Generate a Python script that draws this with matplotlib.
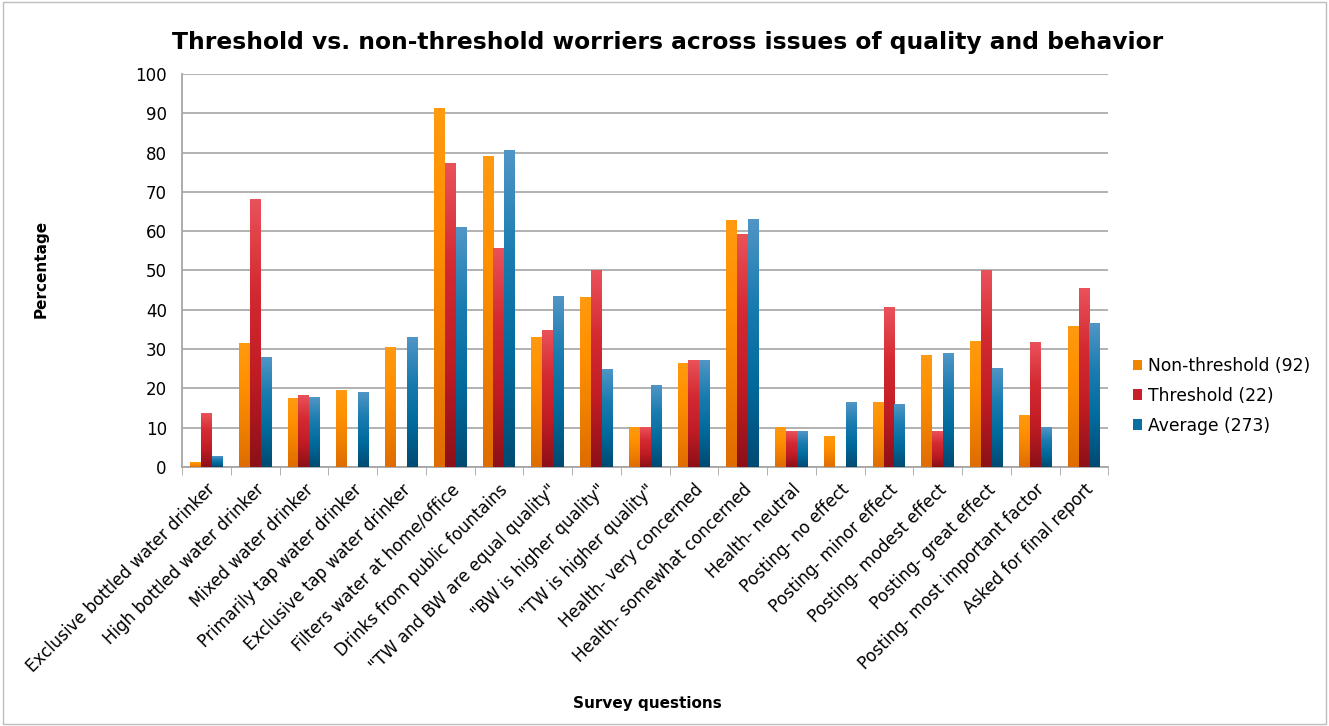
import numpy as np
import matplotlib
matplotlib.use("Agg")
import matplotlib.pyplot as plt
from matplotlib.colors import LinearSegmentedColormap
from matplotlib.patches import Rectangle, Patch

# Survey data (percent)
questions = [
    "Exclusive bottled water drinker",
    "High bottled water drinker",
    "Mixed water drinker",
    "Primarily tap water drinker",
    "Exclusive tap water drinker",
    "Filters water at home/office",
    "Drinks from public fountains",
    "\"TW and BW are equal quality\"",
    "\"BW is higher quality\"",
    "\"TW is higher quality\"",
    "Health- very concerned",
    "Health- somewhat concerned",
    "Health- neutral",
    "Posting- no effect",
    "Posting- minor effect",
    "Posting- modest effect",
    "Posting- great effect",
    "Posting- most important factor",
    "Asked for final report",
]
non_threshold = [1.1, 31.5, 17.4, 19.6, 30.4, 91.3, 79.0, 32.9, 43.2, 10.1,
                 26.3, 62.8, 10.0, 7.7, 16.4, 28.5, 31.9, 13.2, 35.8]
threshold = [13.6, 68.2, 18.2, 0, 0, 77.3, 55.6, 34.8, 50.0, 10.0,
             27.2, 59.1, 9.1, 0, 40.6, 9.1, 50.0, 31.8, 45.5]
average = [2.6, 27.8, 17.6, 18.9, 32.9, 61.0, 80.7, 43.3, 24.7, 20.8,
           27.0, 62.9, 9.1, 16.4, 15.8, 28.8, 25.0, 10.1, 36.6]
series_names = ["Non-threshold (92)", "Threshold (22)", "Average (273)"]

# gradient colours, bottom -> top
gradients = [
    ["#de6c00", "#f08000", "#ff9000", "#ff9a10"],
    ["#8c1018", "#c01c24", "#d42a32", "#ea525a"],
    ["#004a72", "#006a9c", "#1a7cb0", "#5096c6"],
]
mid_colors = ["#f28500", "#c8202a", "#0a6fa0"]

fig = plt.figure(figsize=(13.29, 7.26), dpi=100)
ax = fig.add_axes([0.137, 0.357, 0.697, 0.541])

x = np.arange(len(questions))
width = 0.225
grad = np.linspace(0, 1, 256).reshape(-1, 1)

for i, vals in enumerate([non_threshold, threshold, average]):
    cmap = LinearSegmentedColormap.from_list(f"g{i}", gradients[i])
    bars = ax.bar(x + (i - 1) * width, vals, width, color="none", edgecolor="none", zorder=3)
    for b in bars:
        h = b.get_height()
        if h <= 0:
            continue
        x0 = b.get_x()
        ax.imshow(grad, extent=[x0, x0 + width, 0, h], origin="lower",
                  aspect="auto", cmap=cmap, zorder=3)

ax.set_xlim(-0.5, len(questions) - 0.5)
ax.set_ylim(0, 100)
ax.set_yticks(range(0, 101, 10))
ax.tick_params(axis="y", length=0, labelsize=12, pad=11)
ax.yaxis.grid(True, color="#ababab", linewidth=1.3, zorder=0)
ax.set_axisbelow(True)

ax.set_xticks(x)
ax.set_xticklabels(questions, rotation=45, ha="right", rotation_mode="anchor", fontsize=12)
ax.tick_params(axis="x", which="major", length=0, pad=10)
ax.set_xticks(np.arange(-0.5, len(questions), 1), minor=True)
ax.tick_params(axis="x", which="minor", length=6, color="#a6a6a6", direction="out")

for s in ["top", "right"]:
    ax.spines[s].set_visible(False)
ax.spines["left"].set_color("#a6a6a6")
ax.spines["bottom"].set_color("#a6a6a6")
ax.spines["left"].set_linewidth(1.3)
ax.spines["bottom"].set_linewidth(1.3)

fig.text(0.502, 0.942, "Threshold vs. non-threshold worriers across issues of quality and behavior",
         ha="center", va="center", fontsize=16.8, fontweight="bold")
fig.text(0.031, 0.63, "Percentage", rotation=90, ha="center", va="center",
         fontsize=11, fontweight="bold")
fig.text(0.487, 0.031, "Survey questions", ha="center", va="center",
         fontsize=11, fontweight="bold")

handles = [Patch(facecolor=c, edgecolor="none") for c in mid_colors]
fig.legend(handles, series_names, loc="center left", bbox_to_anchor=(0.841, 0.455),
           frameon=False, fontsize=12.3, handlelength=0.55, handleheight=0.55,
           handletextpad=0.3, labelspacing=0.7)

# light frame around the whole chart
fig.patches.append(Rectangle((0.002, 0.003), 0.996, 0.994, transform=fig.transFigure,
                             fill=False, edgecolor="#bdbdbd", linewidth=1))

fig.savefig("out.png", dpi=100)
